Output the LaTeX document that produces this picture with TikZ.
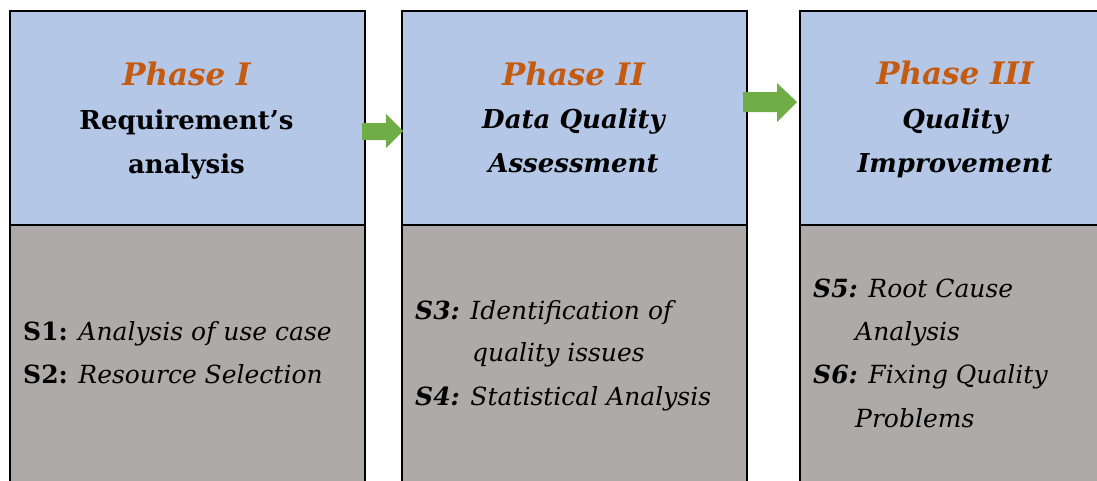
\documentclass[tikz,border=0pt]{standalone}
\usepackage{fontspec}
\setmainfont{DejaVu Serif}
\definecolor{phaseblue}{HTML}{B4C7E7}
\definecolor{stepgray}{HTML}{AEAAAA}
\definecolor{phaseorange}{HTML}{C55A11}
\definecolor{arrowgreen}{HTML}{70AD47}
\tikzset{
  topbox/.style={draw=black, line width=2pt, fill=phaseblue, anchor=north west, inner sep=0pt},
  botbox/.style={draw=black, line width=2pt, fill=stepgray, anchor=north west, inner sep=0pt},
  phasetitle/.style={anchor=base, inner sep=0pt, text=phaseorange, font=\fontsize{31}{36}\selectfont\bfseries\itshape},
  phasename/.style={anchor=base, inner sep=0pt, font=\fontsize{26}{30}\selectfont\bfseries},
  phasenameit/.style={phasename, font=\fontsize{26}{30}\selectfont\bfseries\itshape},
  steptext/.style={anchor=base west, inner sep=0pt, font=\fontsize{25}{30}\selectfont\itshape},
  greenarrow/.style={fill=arrowgreen, draw=none}
}
\begin{document}
\begin{tikzpicture}[x=1pt, y=-1pt]
\useasboundingbox (0,0) rectangle (1097,480);
\clip (0,0) rectangle (1097,480);
% boxes
\node[botbox, minimum width=355pt, minimum height=280pt] (b1) at (9,224) {};
\node[botbox, minimum width=345pt, minimum height=280pt] (b2) at (401,224) {};
\node[botbox, minimum width=320pt, minimum height=280pt] (b3) at (799,224) {};
\node[topbox, minimum width=355pt, minimum height=214pt] (t1) at (9,10) {};
\node[topbox, minimum width=345pt, minimum height=214pt] (t2) at (401,10) {};
\node[topbox, minimum width=320pt, minimum height=214pt] (t3) at (799,10) {};
% arrows
\fill[greenarrow] (362,123) -- (386,123) -- (386,114) -- (403,131) -- (386,148) -- (386,140) -- (362,140) -- cycle;
\fill[greenarrow] (743,92) -- (777,92) -- (777,83) -- (797,102) -- (777,122) -- (777,112) -- (743,112) -- cycle;
% headings
\node[phasetitle] (p1) at (186.5,85) {Phase I};
\node[phasename] (n1a) at (186.5,129) {Requirement’s};
\node[phasename] (n1b) at (186.5,173) {analysis};
\node[phasetitle] (p2) at (573.5,85) {Phase II};
\node[phasenameit] (n2a) at (573.5,128) {Data Quality};
\node[phasenameit] (n2b) at (573.5,172) {Assessment};
\node[phasetitle] (p3) at (955,84) {Phase III};
\node[phasenameit] (n3a) at (955,128) {Quality};
\node[phasenameit] (n3b) at (955,172) {Improvement};
% steps
\node[steptext] (s1) at (23,340) {\textbf{\upshape S1:} Analysis of use case};
\node[steptext] (s2) at (23,383) {\textbf{\upshape S2:} Resource Selection};
\node[steptext] (s3) at (415,319) {\textbf{S3:} Identification of};
\node[steptext] (s3b) at (472,361) {quality issues};
\node[steptext] (s4) at (415,405) {\textbf{S4:} Statistical Analysis};
\node[steptext] (s5) at (813,297) {\textbf{S5:} Root Cause};
\node[steptext] (s5b) at (855,340) {Analysis};
\node[steptext] (s6) at (813,383) {\textbf{S6:} Fixing Quality};
\node[steptext] (s6b) at (855,427) {Problems};
\end{tikzpicture}
\end{document}
